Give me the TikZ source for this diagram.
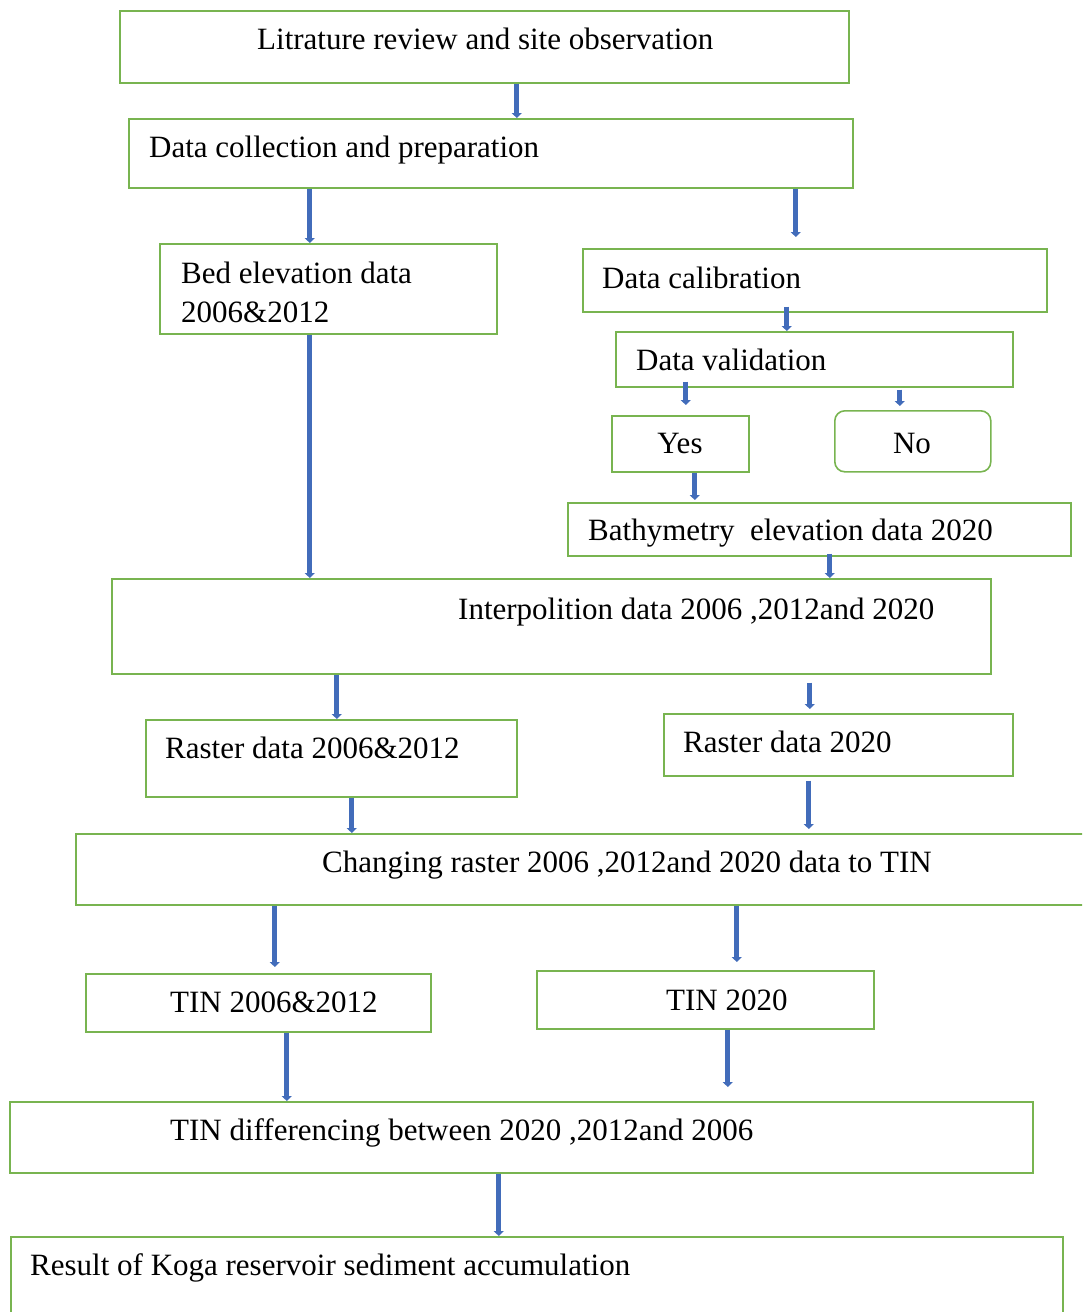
\documentclass[tikz,border=0pt]{standalone}
\usepackage{fontspec}
\setmainfont{Liberation Serif}
\usepackage{tikz}
\usetikzlibrary{arrows.meta}
\definecolor{boxgreen}{RGB}{120,180,80}
\definecolor{arrowblue}{RGB}{66,108,186}

\begin{document}
\begin{tikzpicture}[x=1pt, y=-1pt,
  box/.style={draw=boxgreen, line width=1.6pt, inner sep=0pt, anchor=north west},
  txt/.style={font=\fontsize{31}{39}\selectfont, inner sep=0pt, anchor=base west},
  arr/.style={draw=arrowblue, line width=5pt, -{Triangle[length=5pt, width=10pt]}}]
\useasboundingbox (0,0) rectangle (1082,1312);
\clip (0,0) rectangle (1082,1312);
% boxes
\node[box, minimum width=729, minimum height=72] (lit) at (119,10) {};
\node[box, minimum width=724, minimum height=69] (collect) at (128,118) {};
\node[box, minimum width=337, minimum height=90] (bed) at (159,243) {};
\node[box, minimum width=464, minimum height=63] (calib) at (582,248) {};
\node[box, minimum width=397, minimum height=55] (valid) at (615,331) {};
\node[box, minimum width=137, minimum height=56] (yes) at (611,415) {};
\node[box, minimum width=156, minimum height=61, rounded corners=10pt] (no) at (834,410) {};
\node[box, minimum width=503, minimum height=53] (bathy) at (567,502) {};
\node[box, minimum width=879, minimum height=95] (interp) at (111,578) {};
\node[box, minimum width=371, minimum height=77] (rast1) at (145,719) {};
\node[box, minimum width=349, minimum height=62] (rast2) at (663,713) {};
\node[box, minimum width=1015, minimum height=71] (change) at (75,833) {};
\node[box, minimum width=345, minimum height=58] (tin1) at (85,973) {};
\node[box, minimum width=337, minimum height=58] (tin2) at (536,970) {};
\node[box, minimum width=1023, minimum height=71] (diff) at (9,1101) {};
\node[box, minimum width=1052, minimum height=94] (result) at (10,1236) {};
% texts
\node[txt] (litT) at (257,49) {Litrature review and site observation};
\node[txt] (collectT) at (149,157) {Data collection and preparation};
\node[txt] (bedT) at (181,283) {Bed elevation data};
\node[txt] (bedY) at (181,322) {2006\&2012};
\node[txt] (calibT) at (602,288) {Data calibration};
\node[txt] (validT) at (636,370) {Data validation};
\node[txt, anchor=base] (yesT) at (680,453) {Yes};
\node[txt, anchor=base] (noT) at (912,453) {No};
\node[txt] (bathyT) at (588,540) {Bathymetry\ \ elevation data 2020};
\node[txt] (interpT) at (458,619) {Interpolition data 2006 ,2012and 2020};
\node[txt] (rast1T) at (165,758) {Raster data 2006\&2012};
\node[txt] (rast2T) at (683,752) {Raster data 2020};
\node[txt] (changeT) at (322,872) {Changing raster 2006 ,2012and 2020 data to TIN};
\node[txt] (tin1T) at (170,1012) {TIN 2006\&2012};
\node[txt] (tin2T) at (666,1010) {TIN 2020};
\node[txt] (diffT) at (170,1140) {TIN differencing between 2020 ,2012and 2006};
\node[txt] (resultT) at (30,1275) {Result of Koga reservoir sediment accumulation};
% arrows
\draw[arr] ([xshift=32.5pt]lit.south) -- ([xshift=32.5pt]lit.south |- collect.north);
\draw[arr] ([xshift=-181pt]collect.south) -- ([xshift=-181pt]collect.south |- bed.north);
\draw[arr, shorten >=11pt] ([xshift=305pt]collect.south) -- ([xshift=305pt]collect.south |- calib.north);
\draw[arr, shorten <=-6pt] ([xshift=-28pt]calib.south) -- ([xshift=-28pt]calib.south |- valid.north);
\draw[arr, shorten <=-6pt, shorten >=10pt] ([xshift=-128.5pt]valid.south) -- ([xshift=-128.5pt]valid.south |- yes.north);
\draw[arr, shorten <=2pt, shorten >=4pt] ([xshift=85.5pt]valid.south) -- ([xshift=85.5pt]valid.south |- no.north);
\draw[arr, shorten >=2pt] ([xshift=14.5pt]yes.south) -- ([xshift=14.5pt]yes.south |- bathy.north);
\draw[arr, shorten <=-3pt] ([xshift=10.5pt]bathy.south) -- ([xshift=10.5pt]bathy.south |- interp.north);
\draw[arr] ([xshift=-18.5pt]bed.south) -- ([xshift=-18.5pt]bed.south |- interp.north);
\draw[arr] ([xshift=-214.5pt]interp.south) -- ([xshift=-214.5pt]interp.south |- rast1.north);
\draw[arr, shorten <=8pt, shorten >=4pt] ([xshift=258.5pt]interp.south) -- ([xshift=258.5pt]interp.south |- rast2.north);
\draw[arr] ([xshift=20.5pt]rast1.south) -- ([xshift=20.5pt]rast1.south |- change.north);
\draw[arr, shorten <=4pt, shorten >=4pt] ([xshift=-29.5pt]rast2.south) -- ([xshift=-29.5pt]rast2.south |- change.north);
\draw[arr, shorten >=6pt] ([xshift=-308.5pt]change.south) -- ([xshift=-308.5pt]change.south |- tin1.north);
\draw[arr, shorten >=8pt] ([xshift=153.5pt]change.south) -- ([xshift=153.5pt]change.south |- tin2.north);
\draw[arr] ([xshift=28.5pt]tin1.south) -- ([xshift=28.5pt]tin1.south |- diff.north);
\draw[arr, shorten >=14pt] ([xshift=22.5pt]tin2.south) -- ([xshift=22.5pt]tin2.south |- diff.north);
\draw[arr] ([xshift=-22.5pt]diff.south) -- ([xshift=-22.5pt]diff.south |- result.north);
\end{tikzpicture}
\end{document}
